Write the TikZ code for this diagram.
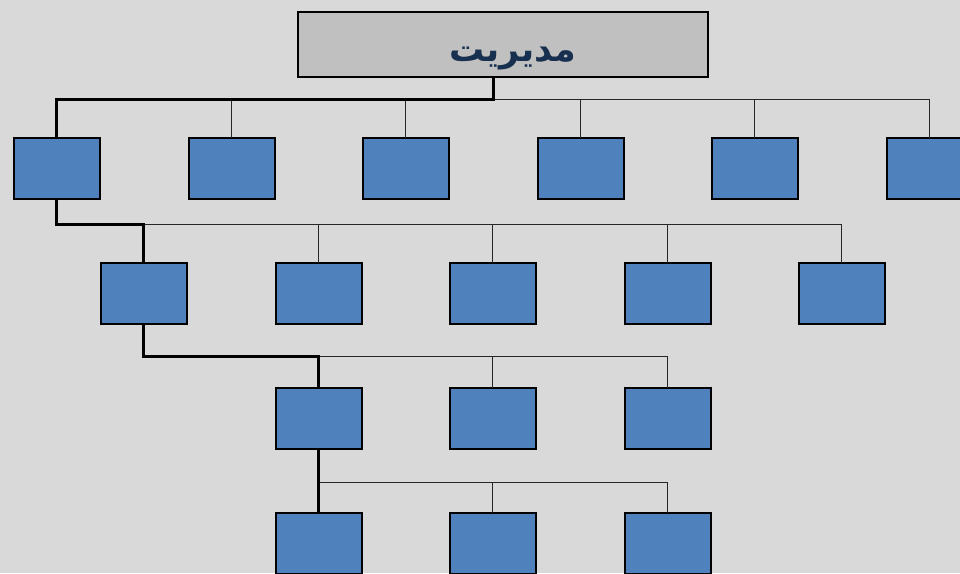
\documentclass[tikz,border=0pt]{standalone}
\usepackage{fontspec}
\newfontfamily\arabicfont[Script=Arabic]{DejaVu Sans}
\TeXXeTstate=1
\definecolor{bg}{HTML}{D9D9D9}
\definecolor{titlefill}{HTML}{C0C0C0}
\definecolor{boxblue}{HTML}{4F81BD}
\definecolor{titletext}{HTML}{17304F}
\begin{document}
\begin{tikzpicture}[x=1pt,y=-1pt,
  unit/.style={draw=black, line width=2pt, fill=boxblue, minimum width=86pt, minimum height=61pt, inner sep=0pt, outer sep=0pt},
  titlebox/.style={draw=black, line width=2pt, fill=titlefill, minimum width=410pt, minimum height=65pt, inner sep=0pt, outer sep=0pt},
  mainline/.style={line width=3pt, line cap=butt, line join=miter},
  sideline/.style={line width=1pt, draw=black!85}]
\fill[bg] (0,0) rectangle (960,573);
\useasboundingbox (0,0) rectangle (960,573);
\clip (0,0) rectangle (960,573);
% title
\node[titlebox] (t) at (502.5,44) {};
\node[text=titletext, anchor=base, font=\arabicfont\bfseries\fontsize{35}{40}\selectfont] (tt) at (513,61) {\beginR مدیریت\endR};
% row 1
\node[unit] (a1) at (56.5,168) {};
\node[unit] (a2) at (231.5,168) {};
\node[unit] (a3) at (405.5,168) {};
\node[unit] (a4) at (580.5,168) {};
\node[unit] (a5) at (754.5,168) {};
\node[unit] (a6) at (929.5,168) {};
% row 2
\node[unit] (b1) at (143.5,293) {};
\node[unit] (b2) at (318.5,293) {};
\node[unit] (b3) at (492.5,293) {};
\node[unit] (b4) at (667.5,293) {};
\node[unit] (b5) at (841.5,293) {};
% row 3
\node[unit] (c1) at (318.5,418) {};
\node[unit] (c2) at (492.5,418) {};
\node[unit] (c3) at (667.5,418) {};
% row 4
\node[unit] (d1) at (318.5,543) {};
\node[unit] (d2) at (492.5,543) {};
\node[unit] (d3) at (667.5,543) {};
% junction coordinates
\coordinate (tj) at (493,77);
\coordinate (bus1) at (493,99);
\coordinate (bus2) at (143.5,224);
\coordinate (bus3) at (318.5,356);
\coordinate (bus4) at (320,482);
% level 1 connectors
\draw[sideline] (bus1) -| (a2.north);
\draw[sideline] (bus1) -| (a3.north);
\draw[sideline] (bus1) -| (a4.north);
\draw[sideline] (bus1) -| (a5.north);
\draw[sideline] (bus1) -| (a6.north);
\draw[mainline] (tj) -- (bus1) -| (a1.north);
% level 2 connectors
\draw[sideline] (bus2) -| (b2.north);
\draw[sideline] (bus2) -| (b3.north);
\draw[sideline] (bus2) -| (b4.north);
\draw[sideline] (bus2) -| (b5.north);
\draw[mainline] (a1.south) |- (bus2) -- (b1.north);
% level 3 connectors
\draw[sideline] (bus3) -| (c2.north);
\draw[sideline] (bus3) -| (c3.north);
\draw[mainline] (b1.south) |- (bus3) -- (c1.north);
% level 4 connectors
\draw[sideline] (bus4) -| (d2.north);
\draw[sideline] (bus4) -| (d3.north);
\draw[mainline] (c1.south) -- (d1.north);
\end{tikzpicture}
\end{document}
